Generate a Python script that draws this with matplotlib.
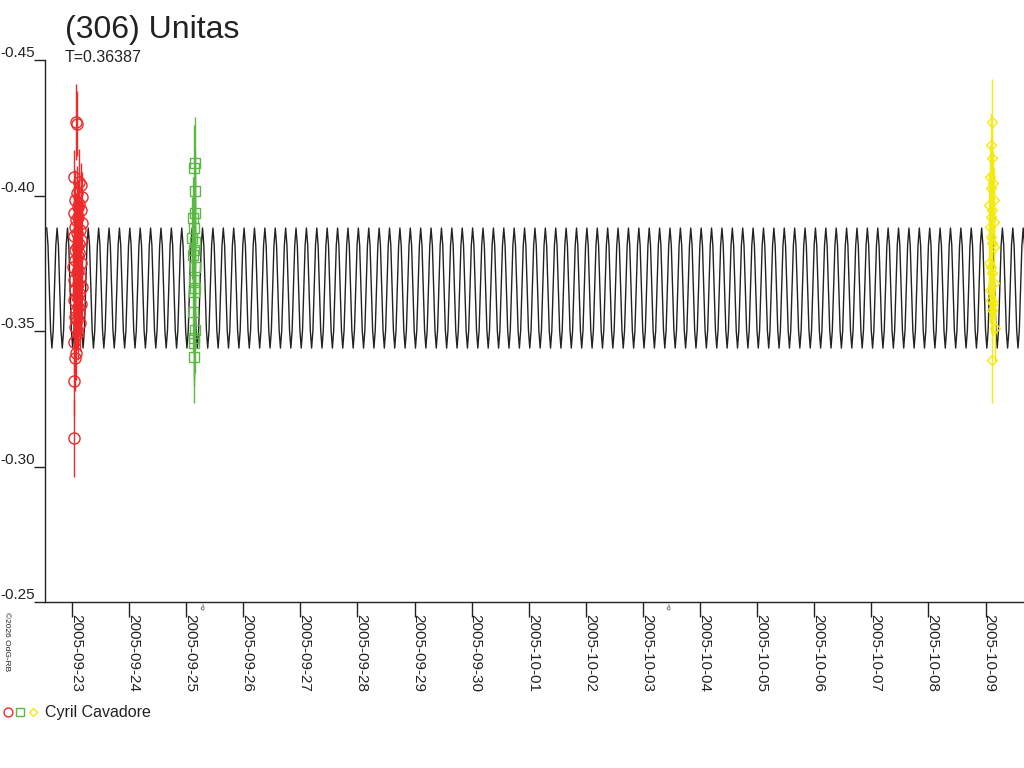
import matplotlib
matplotlib.use('Agg')
import matplotlib.pyplot as plt
import matplotlib.dates as mdates
from matplotlib.lines import Line2D
from matplotlib.legend_handler import HandlerTuple
from datetime import datetime
import numpy as np

plt.rcParams['font.family'] = ['Liberation Sans', 'DejaVu Sans']

title = '(306) Unitas'
period_label = 'T=0.36387'
observer = 'Cyril Cavadore'
period = 0.36387
start = datetime(2005, 9, 23)

# model lightcurve: one rotation (two maxima per period)
model_start = -0.443          # days from 2005-09-23, first maximum
model_cycle = [-0.388, -0.3816, -0.3659, -0.3502, -0.3437, -0.3502, -0.3659, -0.3816,
               -0.388, -0.3816, -0.3659, -0.3502, -0.3437, -0.3502, -0.3659, -0.3816]
n_cycles = 48

# session 1 (red circles), days from 2005-09-23
red_days = [0.07, 0.09, 0.03, 0.12, 0.15, 0.08, 0.17, 0.05, 0.13, 0.10, 0.16, 0.04, 0.11,
            0.07, 0.18, 0.06, 0.14, 0.09, 0.03, 0.15, 0.12, 0.08, 0.05, 0.13, 0.10, 0.06,
            0.16, 0.02, 0.11, 0.08, 0.14, 0.04, 0.10, 0.17, 0.06, 0.12, 0.09, 0.03, 0.15,
            0.11, 0.07, 0.13, 0.05, 0.09, 0.14, 0.06, 0.10, 0.04, 0.07, 0.05, 0.04, 0.04]
red_mag = [-0.4271, -0.4265, -0.4068, -0.4050, -0.4039, -0.4009, -0.3995, -0.3983, -0.3970,
           -0.3958, -0.3945, -0.3935, -0.3922, -0.3910, -0.3898, -0.3884, -0.3872, -0.3862,
           -0.3850, -0.3836, -0.3822, -0.3810, -0.3798, -0.3788, -0.3775, -0.3762, -0.3750,
           -0.3736, -0.3725, -0.3714, -0.3700, -0.3688, -0.3675, -0.3662, -0.3650, -0.3640,
           -0.3625, -0.3614, -0.3600, -0.3589, -0.3575, -0.3567, -0.3553, -0.3541, -0.3528,
           -0.3515, -0.3493, -0.3459, -0.3419, -0.3400, -0.3315, -0.3105]
red_err = [0.014, 0.012, 0.010, 0.012, 0.008, 0.010, 0.009, 0.011, 0.012, 0.010, 0.009,
           0.011, 0.012, 0.010, 0.009, 0.011, 0.010, 0.012, 0.009, 0.010, 0.011, 0.010,
           0.012, 0.009, 0.010, 0.011, 0.010, 0.012, 0.009, 0.010, 0.011, 0.010, 0.009,
           0.012, 0.010, 0.011, 0.009, 0.010, 0.012, 0.010, 0.011, 0.009, 0.010, 0.011,
           0.010, 0.012, 0.010, 0.011, 0.010, 0.012, 0.013, 0.0145]

# session 2 (green squares)
green_days = [2.15, 2.13, 2.16, 2.15, 2.12, 2.14, 2.11, 2.16, 2.13, 2.12, 2.15, 2.14,
              2.16, 2.13, 2.12, 2.15, 2.14, 2.13, 2.14]
green_mag = [-0.4120, -0.4101, -0.4017, -0.3935, -0.3917, -0.3880, -0.3843, -0.3828,
             -0.3799, -0.3780, -0.3736, -0.3688, -0.3659, -0.3644, -0.3570, -0.3504,
             -0.3474, -0.3456, -0.3404]
green_err = [0.017, 0.016, 0.015, 0.016, 0.015, 0.016, 0.015, 0.016, 0.015, 0.016, 0.015,
             0.016, 0.015, 0.016, 0.015, 0.016, 0.015, 0.016, 0.017]

# session 3 (yellow diamonds)
yellow_days = [16.11, 16.09, 16.12, 16.07, 16.13, 16.10, 16.15, 16.06, 16.12, 16.09,
               16.14, 16.07, 16.10, 16.12, 16.15, 16.06, 16.09, 16.12, 16.14, 16.07,
               16.10, 16.13, 16.11, 16.16, 16.12]
yellow_mag = [-0.4271, -0.4186, -0.4138, -0.4068, -0.4046, -0.4028, -0.3983, -0.3965,
              -0.3946, -0.3921, -0.3902, -0.3884, -0.3847, -0.3825, -0.3810, -0.3751,
              -0.3736, -0.3714, -0.3677, -0.3651, -0.3614, -0.3603, -0.3577, -0.3511,
              -0.3393]
yellow_err = [0.016, 0.012, 0.012, 0.012, 0.012, 0.012, 0.012, 0.012, 0.012, 0.012,
              0.012, 0.012, 0.012, 0.012, 0.012, 0.012, 0.012, 0.012, 0.012, 0.012,
              0.012, 0.012, 0.012, 0.012, 0.016]

# moon phases (last quarter, new moon), days from 2005-09-23
moon_days = [2.28, 10.44]

base = mdates.date2num(start)
ink = '#222222'

fig = plt.figure(figsize=(10.24, 7.68), dpi=100)
ax = fig.add_axes([45 / 1024, 1 - 602 / 768, 979 / 1024, 542 / 768])

# model curve
phase = np.arange(len(model_cycle)) / len(model_cycle)
mt = []
mm = []
for k in range(n_cycles):
    mt.extend(base + model_start + (k + phase) * period)
    mm.extend(model_cycle)
ax.plot(mt, mm, color=ink, lw=1, zorder=1)

sessions = [
    (red_days, red_mag, red_err, '#ee2a2a', 'o', 8),
    (green_days, green_mag, green_err, '#5cb845', 's', 6.5),
    (yellow_days, yellow_mag, yellow_err, '#f2ea10', 'D', 5.5),
]
handles = []
for d, m, e, c, mk, ms in sessions:
    x = base + np.array(d)
    ax.errorbar(x, m, yerr=e, fmt='none', ecolor=c, elinewidth=1, capsize=0, zorder=2)
    ax.plot(x, m, linestyle='none', marker=mk, ms=ms, mfc='none', mec=c, mew=1, zorder=3)
    handles.append(Line2D([], [], linestyle='none', marker=mk, ms=ms * 0.8, mfc='none',
                          mec=c, mew=1))

for md in moon_days:
    ax.text(base + md, -0.2485, 'ρ', fontsize=5, color=ink, ha='center', va='center',
            rotation=200, clip_on=False)

ax.set_xlim(base - 0.473, base + 16.673)
ax.set_ylim(-0.25, -0.45)
ax.set_yticks([-0.45, -0.40, -0.35, -0.30, -0.25])
ax.set_yticklabels(['-0.45', '-0.40', '-0.35', '-0.30', '-0.25'])
ax.xaxis.set_major_locator(mdates.DayLocator())
ax.xaxis.set_major_formatter(mdates.DateFormatter('%Y-%m-%d'))

for s in ['top', 'right']:
    ax.spines[s].set_visible(False)
for s in ['left', 'bottom']:
    ax.spines[s].set_color(ink)
    ax.spines[s].set_linewidth(1)

ax.tick_params(axis='y', length=8, width=1, color=ink, labelcolor=ink, labelsize=11, pad=-1)
ax.tick_params(axis='x', length=11, width=1, color=ink, labelcolor=ink, labelsize=11, pad=-2)
for lbl in ax.get_yticklabels():
    lbl.set_va('bottom')
for lbl in ax.get_xticklabels():
    lbl.set_rotation(-90)
    lbl.set_ha('left')
    lbl.set_va('baseline')
    lbl.set_rotation_mode('anchor')

fig.text(65 / 1024, 1 - 30 / 768, title, fontsize=23, color=ink, va='center', ha='left')
fig.text(65 / 1024, 1 - 58 / 768, period_label, fontsize=11.5, color=ink, va='center', ha='left')
fig.text(3 / 1024, 1 - 612 / 768, '©2026 OdG-RB', fontsize=6, color=ink, rotation=-90,
         ha='left', va='top')

fig.legend(handles=[tuple(handles)], labels=[observer],
           handler_map={tuple: HandlerTuple(ndivide=None, pad=0)},
           loc='center left', bbox_to_anchor=(2 / 1024, 1 - 713 / 768), frameon=False,
           fontsize=11.5, handlelength=2.3, handletextpad=0.4, borderpad=0,
           borderaxespad=0, labelcolor=ink)

fig.savefig('out.png', dpi=100, facecolor='white')
